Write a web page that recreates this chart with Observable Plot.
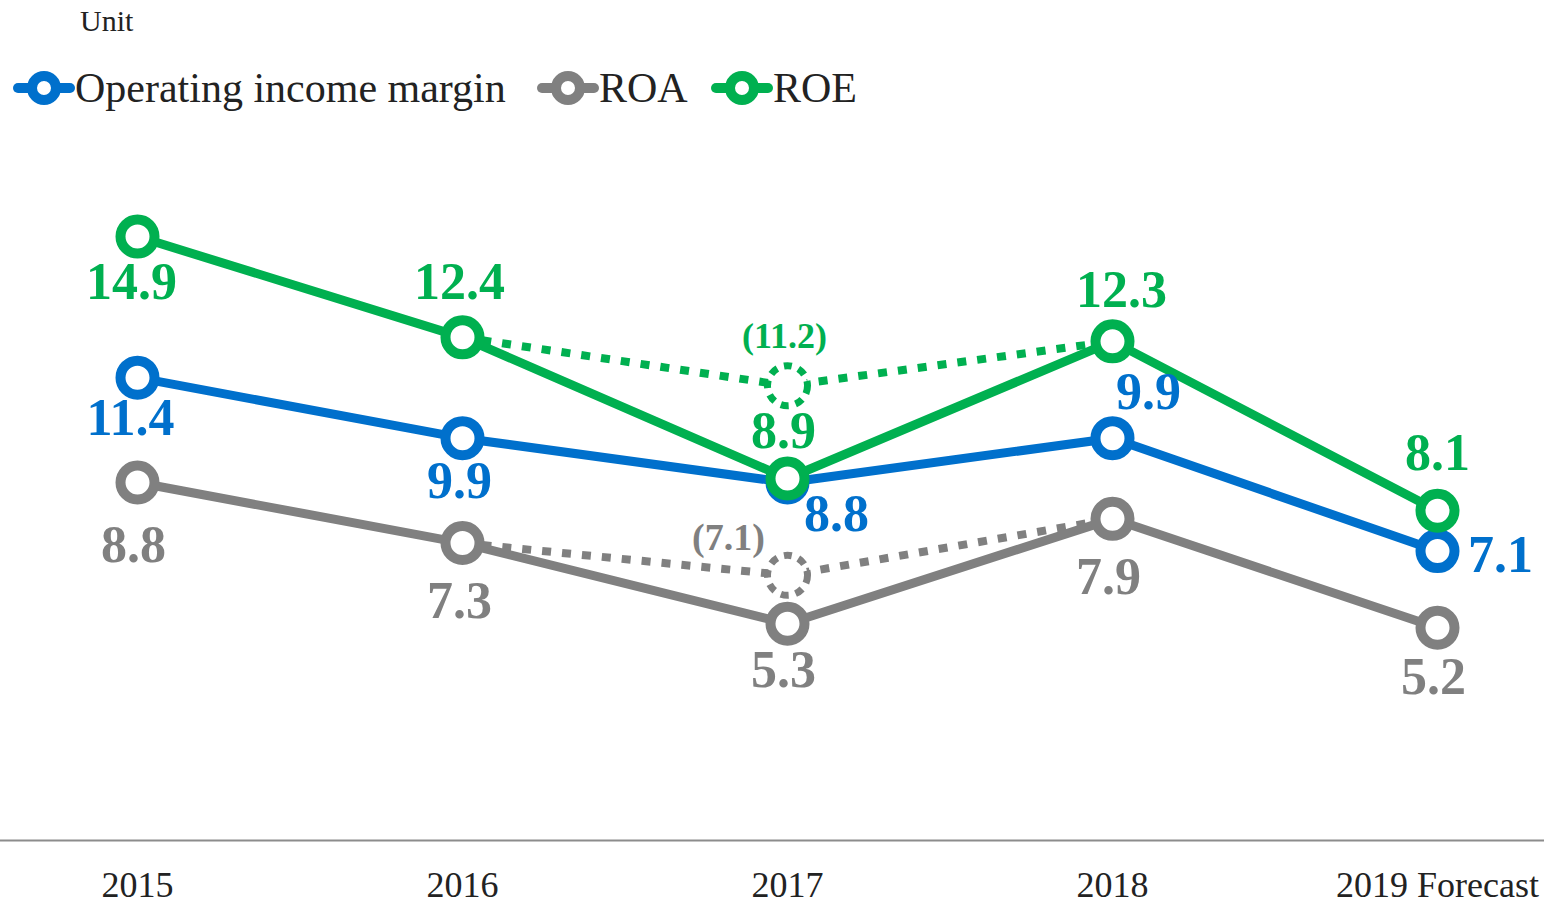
<!DOCTYPE html>
<html>
<head>
<meta charset="utf-8">
<script src="https://cdn.jsdelivr.net/npm/d3@7"></script>
<script src="https://cdn.jsdelivr.net/npm/@observablehq/plot@0.6"></script>
<style>
  html, body { margin: 0; padding: 0; background: #fff; }
  body { width: 1544px; height: 903px; overflow: hidden; font-family: "Liberation Serif", "Times New Roman", serif; color: #222; }
  #head { position: relative; height: 120px; }
  #unit { position: absolute; left: 80px; top: 3px; font-size: 30px; line-height: 36px; }
  .leg { position: absolute; top: 64px; height: 48px; display: flex; align-items: center; font-size: 42px; white-space: nowrap; }
  .leg svg { display: block; margin-right: 0px; }
</style>
</head>
<body>
<div id="head">
  <div id="unit">Unit</div>
</div>
<div id="chart"></div>
<script>
// ---- data ----
const years = ["2015", "2016", "2017", "2018", "2019 Forecast"];
const seriesNames = ["Operating income margin", "ROA", "ROE"];
const opMargin = [11.4, 9.9, 8.8, 9.9, 7.1];
const roa = [8.8, 7.3, 5.3, 7.9, 5.2];
const roe = [14.9, 12.4, 8.9, 12.3, 8.1];
// adjusted 2017 figures (dotted path 2016 -> 2017 -> 2018)
const adjYears = ["2016", "2017", "2018"];
const roeAdj = [12.4, 11.2, 12.3];
const roaAdj = [7.3, 6.5, 7.9];
const roeAdjLabel = "(11.2)";
const roaAdjLabel = "(7.1)";

// ---- styles ----
const colors = {"Operating income margin": "#0070CC", "ROA": "#808080", "ROE": "#00B050"};
const font = '"Liberation Serif", "Times New Roman", serif';
const labelOffsets = {
  "ROE": [[-6, 46], [-3, -55], [-4, -47], [9, -51], [0, -57]],
  "Operating income margin": [[-7, 41], [-3, 43], [49, 32], [36, -46], [63, 4]],
  "ROA": [[-4, 63], [-3, 58], [-4, 47], [-4, 59], [-4, 50]]
};

// ---- legend ----
const head = document.getElementById("head");
const legendX = [13, 537, 711];
seriesNames.forEach((name, i) => {
  const c = colors[name];
  const div = document.createElement("div");
  div.className = "leg";
  div.style.left = legendX[i] + "px";
  div.innerHTML = `<svg width="62" height="40" viewBox="0 0 62 40">
      <line x1="5" y1="20" x2="57" y2="20" stroke="${c}" stroke-width="10" stroke-linecap="round"/>
      <circle cx="31" cy="20" r="12" fill="#fff" stroke="${c}" stroke-width="10"/>
    </svg><span>${name}</span>`;
  head.appendChild(div);
});

// ---- table ----
const valuesBySeries = {"Operating income margin": opMargin, "ROA": roa, "ROE": roe};
const rows = [];
seriesNames.forEach(s => years.forEach((y, i) => rows.push({series: s, year: y, value: valuesBySeries[s][i], idx: i})));
const adj = [];
adjYears.forEach((y, i) => {
  adj.push({series: "ROE", year: y, value: roeAdj[i]});
  adj.push({series: "ROA", year: y, value: roaAdj[i]});
});
const adjMid = adj.filter(d => d.year === "2017");

const drawOrder = ["ROA", "Operating income margin", "ROE"];

const marks = [];
// baseline spanning full width
marks.push(Plot.frame({anchor: "bottom", stroke: "#8c8c8c", strokeWidth: 2, insetLeft: -137, insetRight: -107}));
// dotted adjusted paths
["ROA", "ROE"].forEach(s => {
  marks.push(Plot.line(adj.filter(d => d.series === s), {
    x: "year", y: "value", stroke: colors[s], strokeWidth: 8, strokeDasharray: "9 11", strokeLinecap: "butt"
  }));
});
// solid lines
drawOrder.forEach(s => {
  marks.push(Plot.line(rows.filter(d => d.series === s), {
    x: "year", y: "value", stroke: colors[s], strokeWidth: 9
  }));
});
// dashed circles
adjMid.forEach(d => {
  marks.push(Plot.dot([d], {x: "year", y: "value", r: 20, fill: "white", stroke: colors[d.series], strokeWidth: 7, strokeDasharray: "8 7"}));
});
// solid dots
drawOrder.forEach(s => {
  marks.push(Plot.dot(rows.filter(d => d.series === s), {
    x: "year", y: "value", r: 17, fill: "white", stroke: colors[s], strokeWidth: 10
  }));
});
// value labels
rows.forEach(d => {
  const [dx, dy] = labelOffsets[d.series][d.idx];
  marks.push(Plot.text([d], {
    x: "year", y: "value", text: d => d.value.toFixed(1), dx, dy,
    fill: colors[d.series], fontSize: 52, fontWeight: "bold", fontFamily: font
  }));
});
// adjusted labels
const roeMid = adjMid.find(d => d.series === "ROE");
const roaMid = adjMid.find(d => d.series === "ROA");
marks.push(Plot.text([roeMid], {x: "year", y: "value", text: () => roeAdjLabel, dx: -3, dy: -49, fill: colors.ROE, fontSize: 36, fontWeight: "bold", fontFamily: font}));
marks.push(Plot.text([roaMid], {x: "year", y: "value", text: () => roaAdjLabel, dx: -59, dy: -37, fill: colors.ROA, fontSize: 38, fontWeight: "bold", fontFamily: font}));

// axis
marks.push(Plot.axisX({tickSize: 0, tickPadding: 31, fontSize: 36, fontFamily: font, fill: "#222", label: null}));

const chart = Plot.plot({
  width: 1544,
  height: 783,
  marginTop: 116,
  marginBottom: 63,
  marginLeft: 137,
  marginRight: 107,
  insetBottom: 3,
  style: {fontFamily: font, background: "white", overflow: "visible"},
  x: {type: "point", domain: years, padding: 0},
  y: {domain: [0, 14.9], axis: null},
  marks
});
document.getElementById("chart").appendChild(chart);
</script>
</body>
</html>
